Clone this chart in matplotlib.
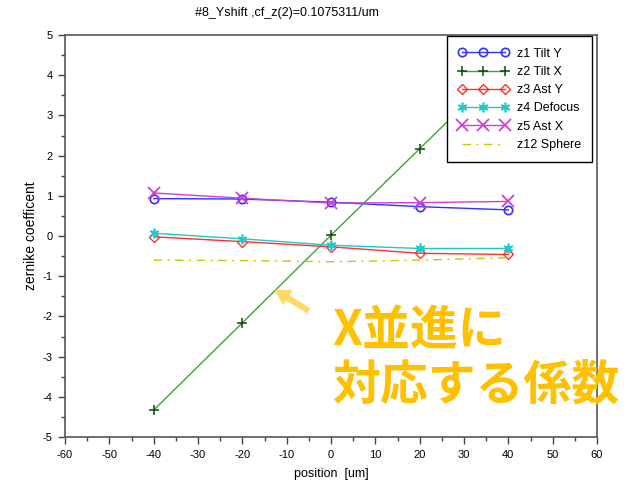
import numpy as np
import matplotlib.pyplot as plt
from matplotlib.ticker import MultipleLocator

plt.rcParams['font.family'] = ['Liberation Sans', 'DejaVu Sans']
plt.rcParams['axes.unicode_minus'] = False

position = [-40, -20, 0, 20, 40]
z1_tilt_y = [0.93, 0.92, 0.84, 0.73, 0.65]
z2_tilt_x = [-4.33, -2.16, 0.02, 2.17, 4.33]
z3_ast_y = [-0.02, -0.14, -0.27, -0.43, -0.46]
z4_defocus = [0.07, -0.07, -0.23, -0.31, -0.31]
z5_ast_x = [1.07, 0.94, 0.82, 0.83, 0.86]
z12_sphere = [-0.60, -0.61, -0.64, -0.60, -0.54]

title = '#8_Yshift ,cf_z(2)=0.1075311/um'
note = 'X並進に\n対応する係数'

fig = plt.figure(figsize=(6.27, 4.87), dpi=100)
ax = fig.add_axes([65/627, 50/487, 532/627, 402/487])

ax.plot(position, z1_tilt_y, color='#3030ff', lw=1, marker='o', ms=6,
        mfc='none', mec='#3030ff', mew=1.2, label='z1 Tilt Y')
ax.plot(position, z2_tilt_x, color='#40a040', lw=1, marker='+', ms=7,
        mec='#0a4a0a', mew=1.1, label='z2 Tilt X')
ax.plot(position, z3_ast_y, color='#ff3030', lw=1, marker='D', ms=5,
        mfc='none', mec='#ff3030', mew=1.0, label='z3 Ast Y')
ax.plot(position, z4_defocus, color='#20c8c8', lw=1, marker=(6, 2, 0), ms=7,
        mec='#20c8c8', mew=1.2, label='z4 Defocus')
ax.plot(position, z5_ast_x, color='#d040d0', lw=1, marker='x', ms=9,
        mew=1.3, label='z5 Ast X')
ax.plot(position, z12_sphere, color='#c8c800', lw=1, ls='-.',
        dashes=(6, 4, 1.5, 4), label='z12 Sphere')

ax.set_xlim(-60, 60)
ax.set_ylim(-5, 5)
ax.xaxis.set_major_locator(MultipleLocator(10))
ax.xaxis.set_minor_locator(MultipleLocator(5))
ax.yaxis.set_major_locator(MultipleLocator(1))
ax.yaxis.set_minor_locator(MultipleLocator(0.5))
ax.tick_params(which='major', direction='out', length=5, width=1,
               color='#444444', labelsize=8, pad=4)
ax.tick_params(which='minor', direction='out', length=3, width=1,
               color='#444444')
for s in ax.spines.values():
    s.set_color('#555555')
    s.set_linewidth(1.2)

fig.text(287/627, 1 - 13/487, title, fontsize=9, ha='center', va='center')
ax.set_xlabel('position  [um]', fontsize=9, labelpad=6)
ax.set_ylabel('zernike coefficent', fontsize=10, labelpad=3)

leg = ax.legend(loc='upper right', bbox_to_anchor=(0.9906, 0.9965),
                borderaxespad=0, fontsize=9, numpoints=3, handlelength=4.1,
                handletextpad=0.6, labelspacing=0.5, borderpad=0.9,
                fancybox=False, framealpha=1, edgecolor='black')
leg.get_frame().set_linewidth(1.0)

ax.annotate('', xy=(-13.2, -1.3), xytext=(-4.5, -1.9),
            arrowprops=dict(arrowstyle='simple,head_length=1.1,head_width=1.3,tail_width=0.45',
                            color='#ffd966', lw=0))

fig.text(332/627, 1 - 306/487, note, fontsize=34.5, fontweight='bold',
         color='#ffc000', va='top', ha='left', linespacing=1.15,
         family=['Noto Sans CJK JP', 'DejaVu Sans'])

fig.savefig('out.png', dpi=100)
